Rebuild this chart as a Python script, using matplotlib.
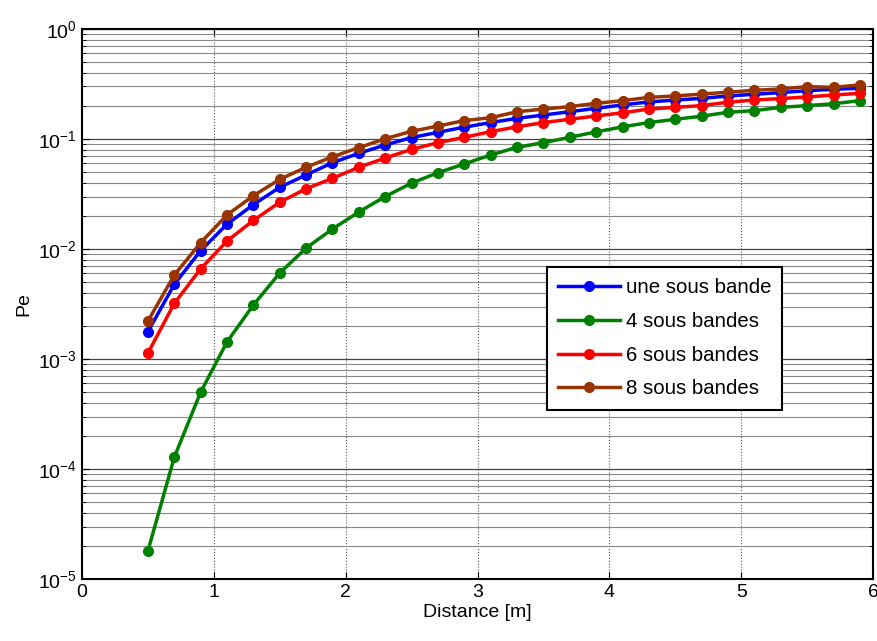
import numpy as np
import matplotlib
matplotlib.use("Agg")
import matplotlib.pyplot as plt
from matplotlib.ticker import LogLocator, NullFormatter, FixedLocator

plt.rcParams['font.family'] = ['Liberation Sans Narrow', 'Liberation Sans', 'DejaVu Sans']

distance = [0.5, 0.7, 0.9, 1.1, 1.3, 1.5, 1.7, 1.9, 2.1, 2.3, 2.5, 2.7, 2.9, 3.1,
            3.3, 3.5, 3.7, 3.9, 4.1, 4.3, 4.5, 4.7, 4.9, 5.1, 5.3, 5.5, 5.7, 5.9]

pe_une = [1.77e-3, 4.77e-3, 9.66e-3, 0.0168, 0.0253, 0.0364, 0.0471, 0.0609, 0.0741,
          0.0882, 0.103, 0.115, 0.128, 0.141, 0.154, 0.165, 0.177, 0.190, 0.204,
          0.217, 0.226, 0.234, 0.246, 0.255, 0.264, 0.275, 0.283, 0.289]
pe_4 = [1.8e-5, 1.28e-4, 5.0e-4, 1.43e-3, 3.1e-3, 6.05e-3, 1.02e-2, 1.52e-2, 2.17e-2,
        0.030, 0.0397, 0.0494, 0.0593, 0.0716, 0.084, 0.0926, 0.1036, 0.116, 0.129,
        0.141, 0.151, 0.161, 0.175, 0.181, 0.194, 0.201, 0.209, 0.223]
pe_6 = [1.13e-3, 3.2e-3, 6.6e-3, 0.0118, 0.0182, 0.0266, 0.0353, 0.0439, 0.0553,
        0.0672, 0.0805, 0.0926, 0.1035, 0.1166, 0.129, 0.141, 0.151, 0.162, 0.173,
        0.187, 0.194, 0.201, 0.216, 0.226, 0.233, 0.241, 0.251, 0.260]
pe_8 = [2.21e-3, 5.8e-3, 0.0114, 0.0204, 0.0305, 0.043, 0.0553, 0.069, 0.0834,
        0.1006, 0.1175, 0.131, 0.147, 0.156, 0.177, 0.187, 0.197, 0.211, 0.223,
        0.239, 0.246, 0.256, 0.266, 0.277, 0.285, 0.299, 0.295, 0.31]

labels = ['une sous bande', '4 sous bandes', '6 sous bandes', '8 sous bandes']
colors = ['#0000ff', '#008000', '#ff0000', '#993300']
series = [pe_une, pe_4, pe_6, pe_8]

fig = plt.figure(figsize=(8.77, 6.41), dpi=100)
ax = fig.add_axes([0.0935, 0.0967, 0.902, 0.8581])

for vals, lab, col in zip(series, labels, colors):
    ax.semilogy(distance, vals, '-o', color=col, lw=2.5, ms=7, label=lab)

ax.set_xlim(0, 6)
ax.set_ylim(1e-5, 1)
ax.xaxis.set_major_locator(FixedLocator([0, 1, 2, 3, 4, 5, 6]))
ax.yaxis.set_major_locator(LogLocator(base=10, numticks=10))
ax.yaxis.set_minor_locator(LogLocator(base=10, subs=np.arange(2, 10), numticks=10))
ax.yaxis.set_minor_formatter(NullFormatter())

ax.grid(True, which='major', axis='x', color='#555555', ls=':', lw=0.8)
ax.grid(True, which='major', axis='y', color='#444444', ls='-', lw=0.9)
ax.grid(True, which='minor', axis='y', color='#888888', ls='-', lw=0.8)

ax.tick_params(which='both', direction='in', top=True, right=True, labelsize=14)
ax.tick_params(which='major', length=5)
ax.tick_params(which='minor', length=3)
for sp in ax.spines.values():
    sp.set_linewidth(1.5)

ax.set_xlabel('Distance [m]', fontsize=14, labelpad=2)
ax.set_ylabel('Pe', fontsize=14, labelpad=4)

leg = ax.legend(loc='upper left', bbox_to_anchor=(0.588, 0.567), fontsize=14.7,
                fancybox=False, framealpha=1, edgecolor='black',
                handlelength=3.0, handletextpad=0.3, borderpad=0.55,
                labelspacing=0.72, borderaxespad=0.0)
leg.get_frame().set_linewidth(1.5)

fig.savefig('out.png', dpi=100)
